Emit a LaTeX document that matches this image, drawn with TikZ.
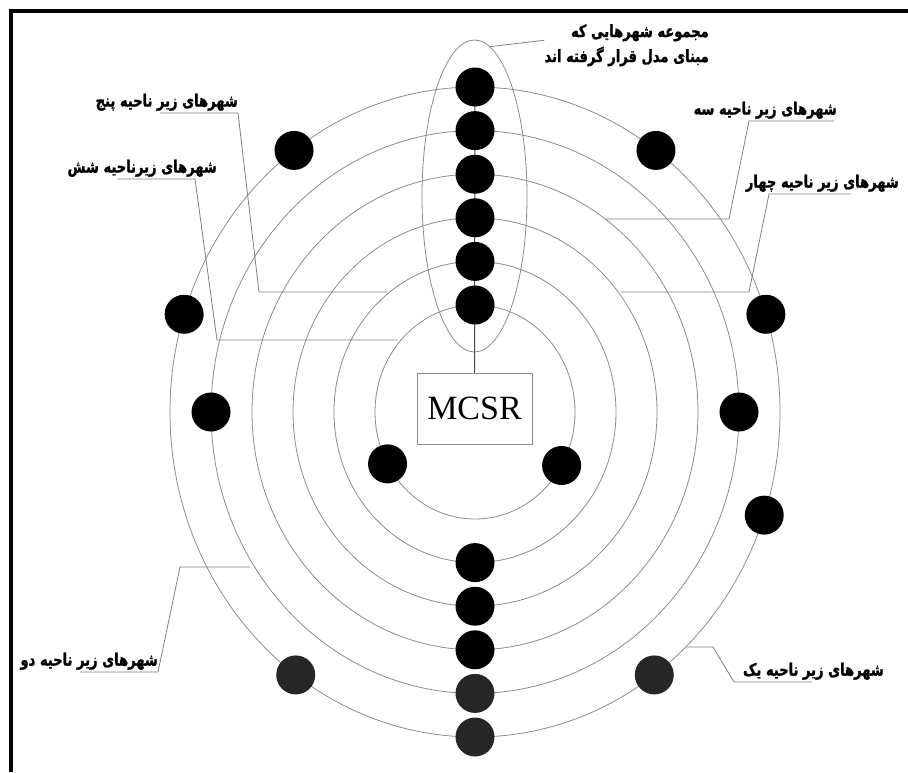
\documentclass[tikz,border=0pt]{standalone}
\usepackage{fontspec}
\setmainfont{Liberation Serif}
\newfontfamily\farsi[Script=Arabic, FakeStretch=0.77, FakeBold=1.2]{DejaVu Sans}
\TeXXeTstate=1
\usetikzlibrary{positioning,shapes.geometric}

\begin{document}
\begin{tikzpicture}[x=1pt, y=-1pt,
    ring/.style={draw=black!45, line width=0.8pt},
    lead/.style={draw=black!50, line width=0.8pt},
    city/.style={circle, fill=black, minimum size=39pt, inner sep=0pt},
    faded/.style={fill=black!85},
    label/.style={font=\farsi\bfseries\fontsize{17}{25}\selectfont, inner xsep=0pt, inner ysep=2pt}]

\useasboundingbox (0,0) rectangle (908,772);
\fill[white] (0,0) rectangle (908,772);
\draw[line width=4pt] (11,772) -- (11,11) -- (908,11);

\coordinate (c) at (475,412);
\foreach \k in {1,...,6} {
  \pgfmathsetmacro{\a}{100+41*(\k-1)}
  \pgfmathsetmacro{\b}{107+43.6*(\k-1)}
  \draw[ring] (c) ellipse [x radius=\a pt, y radius=\b pt];
}

\node[ellipse, ring, minimum width=105pt, minimum height=312pt] (group) at (474.5,196) {};

\node[draw=black!45, fill=white, minimum width=115pt, minimum height=71pt,
      font=\fontsize{34}{36}\selectfont] (mcsr) at (474.5,408.5) {MCSR};

\draw[black!70, line width=1pt] (c) ++(0,-325) coordinate (top) (top) -- (mcsr.north);
\foreach \k in {1,...,6} {
  \pgfmathsetmacro{\b}{107+43.6*(\k-1)}
  \path (c) ++(0,-\b) node[city] (t\k) {};
}
\foreach \k/\s in {2/black,3/black,4/black,5/black!85,6/black!85} {
  \pgfmathsetmacro{\b}{107+43.6*(\k-1)}
  \path (c) ++(0,\b) node[city, fill=\s] (d\k) {};
}

% outer ring
\path (c) ++(126.4:305pt and 325pt) node[city] (o1) {};
\path (c) ++(53.6:305pt and 325pt) node[city] (o2) {};
\path (c) ++(162.5:305pt and 325pt) node[city] (o3) {};
\path (c) ++(17.5:305pt and 325pt) node[city] (o4) {};
\path (c) ++(-18.5:305pt and 325pt) node[city] (o5) {};
\path (c) ++(-54:305pt and 325pt) node[city, faded] (o6) {};
\path (c) ++(-126:305pt and 325pt) node[city, faded] (o7) {};
% fifth ring
\path (c) ++(180:264pt and 281.4pt) node[city] (f1) {};
\path (c) ++(0:264pt and 281.4pt) node[city] (f2) {};
% inner ring
\path (c) ++(-151:100pt and 107pt) node[city] (i1) {};
\path (c) ++(-30:100pt and 107pt) node[city] (i2) {};

\node[label, align=right, anchor=north east] (lab0) at (709,22)
  {\beginR مجموعه شهرهایی که\endR\\ \beginR مبنای مدل قرار گرفته اند\endR};
\draw[lead] (group.84.5) -- ([yshift=5pt]lab0.west);

\node[label, anchor=south east] (lab3) at (837,121) {\beginR شهرهای زیر ناحیه سه\endR};
\draw[lead] ([xshift=-3pt]lab3.south east) -- ++(-85,0) -- ++(-20,98) -- ++(-123,0) coordinate (e3);

\node[label, anchor=south east] (lab4) at (899,194) {\beginR شهرهای زیر ناحیه چهار\endR};
\draw[lead] ([xshift=-48pt]lab4.south east) -- ++(-82,0) -- ++(-20,98) -- ++(-128,0) coordinate (e4);

\node[label, anchor=south east] (lab5) at (238,113) {\beginR شهرهای زیر ناحیه پنج\endR};
\draw[lead] ([xshift=-78pt]lab5.south east) -- ++(78,0) -- ++(21,179) -- ++(128,0) coordinate (e5);

\node[label, anchor=south east] (lab6) at (217,179) {\beginR شهرهای زیرناحیه شش\endR};
\draw[lead] ([xshift=-100pt]lab6.south east) -- ++(78,0) -- ++(22,161) -- ++(181,0) coordinate (e6);

\node[label, anchor=south east] (lab2) at (158,672) {\beginR شهرهای زیر ناحیه دو\endR};
\draw[lead] ([xshift=-78pt]lab2.south east) -- ++(78,0) -- ++(22,-105) -- ++(70,0) coordinate (e2);

\node[label, anchor=south east] (lab1) at (884,682) {\beginR شهرهای زیر ناحیه یک\endR};
\draw[lead] ([xshift=-72pt]lab1.south east) -- ++(-78,0) -- ++(-21,-35) -- ++(-26,0) coordinate (e1);
\end{tikzpicture}
\end{document}
